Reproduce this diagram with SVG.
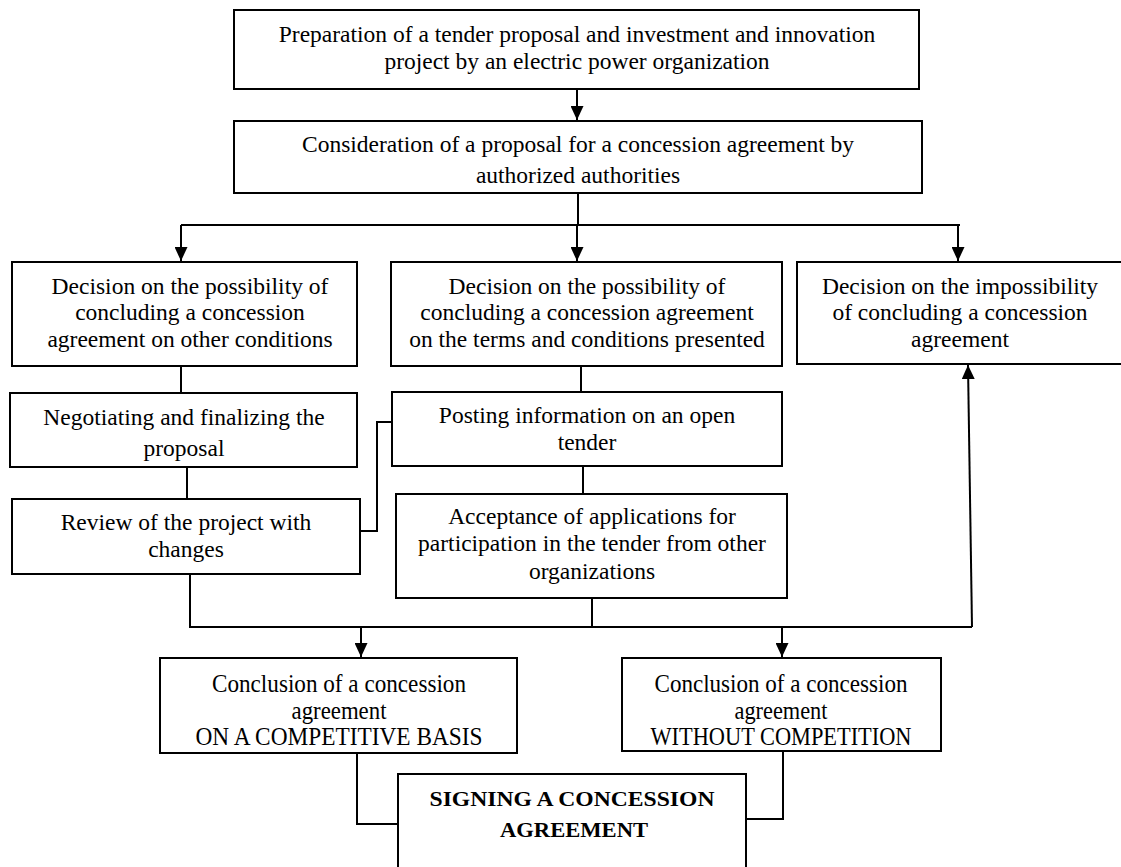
<svg xmlns="http://www.w3.org/2000/svg" width="1121" height="867" viewBox="0 0 1121 867">
<style>
.box{fill:#fff;stroke:#000;stroke-width:2}
.t{font-family:"Liberation Serif","Times New Roman",serif;font-size:23.5px;fill:#000;text-anchor:middle}
.c{font-family:"Liberation Serif","Times New Roman",serif;font-size:25px;fill:#000;text-anchor:middle}
.s{font-family:"Liberation Serif","Times New Roman",serif;font-size:22px;font-weight:bold;fill:#000;text-anchor:middle}
.ln{fill:none;stroke:#000;stroke-width:2}
</style>
<defs>
<marker id="ah" viewBox="0 0 14 13" refX="14" refY="6.5" markerWidth="14" markerHeight="13" markerUnits="userSpaceOnUse" orient="auto">
<path d="M0,0 L14,6.5 L0,13 z" fill="#000"/>
</marker>
</defs>
<rect width="1121" height="867" fill="#fff"/>
<g id="connectors">
<path class="ln" d="M577,89 V120" marker-end="url(#ah)"/>
<path class="ln" d="M578,193 V225"/>
<path class="ln" d="M181,225 H960"/>
<path class="ln" d="M181,225 V261" marker-end="url(#ah)"/>
<path class="ln" d="M577,225 V261" marker-end="url(#ah)"/>
<path class="ln" d="M958,225 V261" marker-end="url(#ah)"/>
<path class="ln" d="M181,366 V393"/>
<path class="ln" d="M187,467 V499"/>
<path class="ln" d="M581,366 V392"/>
<path class="ln" d="M360,531 H377 V422 H392"/>
<path class="ln" d="M583,466 V494"/>
<path class="ln" d="M592,598 V627"/>
<path class="ln" d="M190,574 V627 H972"/>
<path class="ln" d="M972,627 L968,365" marker-end="url(#ah)"/>
<path class="ln" d="M361,627 V657" marker-end="url(#ah)"/>
<path class="ln" d="M782,627 V657" marker-end="url(#ah)"/>
<path class="ln" d="M357,753 V824 H398"/>
<path class="ln" d="M783,751 V819 H746"/>
</g>
<g id="n1"><rect class="box" x="234" y="10" width="685" height="79"/>
<text class="t" x="577" y="42">Preparation of a tender proposal and investment and innovation</text>
<text class="t" x="577" y="69">project by an electric power organization</text></g>
<g id="n2"><rect class="box" x="234" y="121" width="688" height="72"/>
<text class="t" x="578" y="152">Consideration of a proposal for a concession agreement by</text>
<text class="t" x="578" y="183">authorized authorities</text></g>
<g id="n3"><rect class="box" x="12" y="262" width="345" height="104"/>
<text class="t" x="190" y="294">Decision on the possibility of</text>
<text class="t" x="190" y="320">concluding a concession</text>
<text class="t" x="190" y="347">agreement on other conditions</text></g>
<g id="n4"><rect class="box" x="391" y="262" width="391" height="104"/>
<text class="t" x="587" y="294">Decision on the possibility of</text>
<text class="t" x="587" y="320">concluding a concession agreement</text>
<text class="t" x="587" y="347">on the terms and conditions presented</text></g>
<g id="n5"><rect class="box" x="797" y="262" width="330" height="102"/>
<text class="t" x="960" y="294">Decision on the impossibility</text>
<text class="t" x="960" y="320">of concluding a concession</text>
<text class="t" x="960" y="347">agreement</text></g>
<g id="n6"><rect class="box" x="10" y="393" width="347" height="74"/>
<text class="t" x="184" y="425">Negotiating and finalizing the</text>
<text class="t" x="184" y="456">proposal</text></g>
<g id="n7"><rect class="box" x="12" y="499" width="348" height="75"/>
<text class="t" x="186" y="530">Review of the project with</text>
<text class="t" x="186" y="557">changes</text></g>
<g id="n8"><rect class="box" x="392" y="392" width="390" height="74"/>
<text class="t" x="587" y="423">Posting information on an open</text>
<text class="t" x="587" y="450">tender</text></g>
<g id="n9"><rect class="box" x="396" y="494" width="391" height="104"/>
<text class="t" x="592" y="524">Acceptance of applications for</text>
<text class="t" x="592" y="551">participation in the tender from other</text>
<text class="t" x="592" y="579">organizations</text></g>
<g id="n10"><rect class="box" x="160" y="658" width="357" height="95"/>
<text class="c" x="339" y="692" textLength="254" lengthAdjust="spacingAndGlyphs">Conclusion of a concession</text>
<text class="c" x="339" y="719" textLength="95" lengthAdjust="spacingAndGlyphs">agreement</text>
<text class="c" x="339" y="745" textLength="287" lengthAdjust="spacingAndGlyphs">ON A COMPETITIVE BASIS</text></g>
<g id="n11"><rect class="box" x="622" y="658" width="319" height="93"/>
<text class="c" x="781" y="692" textLength="253" lengthAdjust="spacingAndGlyphs">Conclusion of a concession</text>
<text class="c" x="781" y="719" textLength="93" lengthAdjust="spacingAndGlyphs">agreement</text>
<text class="c" x="781" y="745" textLength="261" lengthAdjust="spacingAndGlyphs">WITHOUT COMPETITION</text></g>
<g id="n12"><rect class="box" x="398" y="774" width="348" height="100"/>
<text class="s" x="572" y="806" textLength="285" lengthAdjust="spacingAndGlyphs">SIGNING A CONCESSION</text>
<text class="s" x="574" y="837" textLength="148" lengthAdjust="spacingAndGlyphs">AGREEMENT</text></g>
</svg>
